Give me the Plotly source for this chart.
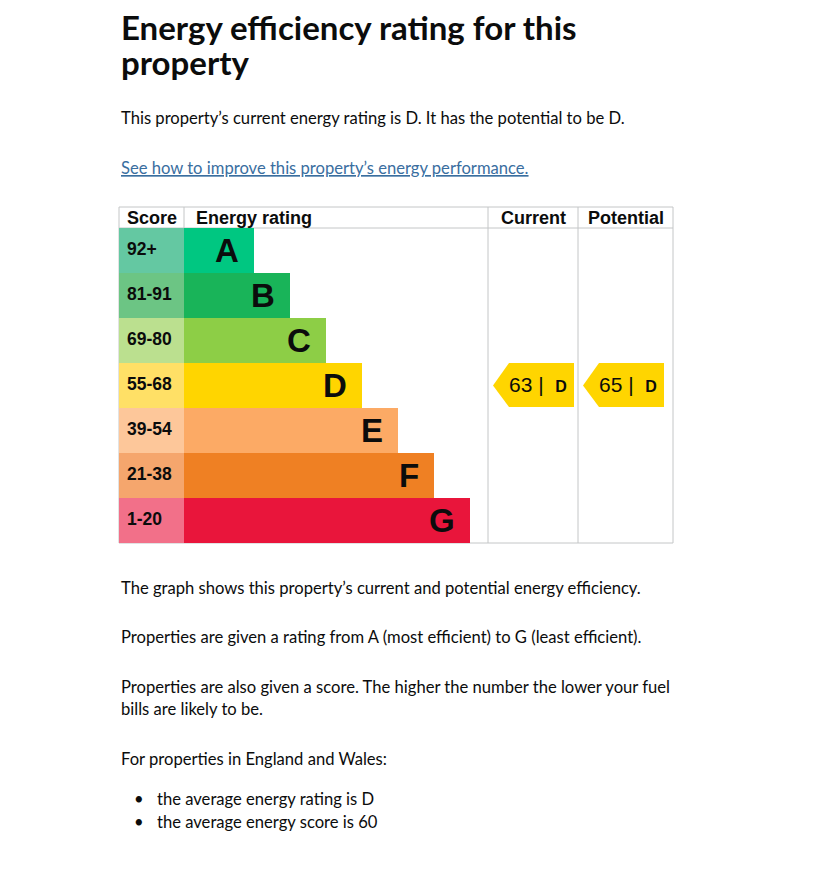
import plotly.graph_objects as go

# EPC bands, top (best) to bottom (worst)
bands = ["A", "B", "C", "D", "E", "F", "G"]
score_ranges = ["92+", "81-91", "69-80", "55-68", "39-54", "21-38", "1-20"]
band_colors = ["#00c781", "#19b459", "#8dce46", "#ffd500", "#fcaa65", "#ef8023", "#e9153b"]
score_colors = ["#64c8a2", "#6cc584", "#bbe08f", "#ffe066", "#fdc79a", "#f5a66d", "#f27089"]

current_score = 63
current_band = "D"
potential_score = 65
potential_band = "D"

intro_text = "This property\u2019s current energy rating is D. It has the potential to be D."
link_text = "See how to improve this property\u2019s energy performance."
notes = [
    "The graph shows this property\u2019s current and potential energy efficiency.",
    "Properties are given a rating from A (most efficient) to G (least efficient).",
    "Properties are also given a score. The higher the number the lower your fuel",
    "bills are likely to be.",
    "For properties in England and Wales:",
]
bullets = ["the average energy rating is D", "the average energy score is 60"]

W, H = 829, 869
TEXT = "#0b0c0c"
BODY_FONT = "Lato"
CHART_FONT = "Liberation Sans, Arial"
GRID = "#c4c6c7"

# table geometry (pixel space)
tbl_left, tbl_right = 119, 673
tbl_top, head_bot = 207, 228
score_right = 184
cur_left, pot_left = 488, 578
row_h = 45
bar_first, bar_step = 70, 36
tbl_bot = head_bot + row_h * len(bands)

row_mid = [head_bot + row_h * (i + 0.5) for i in range(len(bands))]
bar_len = [bar_first + bar_step * i for i in range(len(bands))]

fig = go.Figure()

# score cells
fig.add_trace(go.Bar(
    orientation="h", y=row_mid, x=[score_right - tbl_left] * len(bands), base=tbl_left,
    width=row_h, marker=dict(color=score_colors, line=dict(width=0)), hoverinfo="skip",
))
# rating bars
fig.add_trace(go.Bar(
    orientation="h", y=row_mid, x=bar_len, base=score_right,
    width=row_h, marker=dict(color=band_colors, line=dict(width=0)), hoverinfo="skip",
))


def arrow(col_left, band, score):
    i = bands.index(band)
    top, bot, mid = head_bot + row_h * i, head_bot + row_h * (i + 1) - 1, row_mid[i]
    tip = col_left + 5
    fig.add_trace(go.Scatter(
        x=[tip, tip + 16, tip + 81, tip + 81, tip + 16, tip],
        y=[mid, top, top, bot, bot, mid],
        fill="toself", fillcolor=band_colors[i], mode="lines", line=dict(width=0),
        hoverinfo="skip",
    ))
    fig.add_annotation(
        x=tip + 14, y=mid - 1, xanchor="left", yanchor="middle", showarrow=False,
        text=f"{score} |  <b><span style='font-size:16px'>{band}</span></b>",
        font=dict(family=CHART_FONT, size=21, color=TEXT),
    )


arrow(cur_left, current_band, current_score)
arrow(pot_left, potential_band, potential_score)

# band letters and score labels
for i, b in enumerate(bands):
    fig.add_annotation(
        x=score_right + bar_len[i] - 13, y=row_mid[i], xanchor="right", yanchor="middle",
        text=f"<b>{b}</b>", showarrow=False, font=dict(family=CHART_FONT, size=33, color=TEXT),
    )
    fig.add_annotation(
        x=tbl_left + 6, y=row_mid[i] - 1.5, xanchor="left", yanchor="middle",
        text=f"<b>{score_ranges[i]}</b>", showarrow=False, font=dict(family=CHART_FONT, size=17.5, color=TEXT),
    )

# header
headers = [("Score", tbl_left + 6, "left"), ("Energy rating", score_right + 10, "left"),
           ("Current", (cur_left + pot_left) / 2, "center"), ("Potential", (pot_left + tbl_right) / 2, "center")]
for txt, x, anc in headers:
    fig.add_annotation(x=x, y=(tbl_top + head_bot) / 2, xanchor=anc, yanchor="middle", showarrow=False,
                       text=f"<b>{txt}</b>", font=dict(family=CHART_FONT, size=18, color=TEXT))

# table lines
line = dict(color=GRID, width=1)
shapes = [
    dict(type="line", x0=tbl_left, x1=tbl_right, y0=tbl_top, y1=tbl_top, line=line),
    dict(type="line", x0=tbl_left, x1=tbl_right, y0=head_bot, y1=head_bot, line=line),
    dict(type="line", x0=tbl_left, x1=tbl_right, y0=tbl_bot, y1=tbl_bot, line=line),
    dict(type="line", x0=tbl_left, x1=tbl_left, y0=tbl_top, y1=tbl_bot, line=line),
    dict(type="line", x0=score_right, x1=score_right, y0=tbl_top, y1=head_bot, line=line),
    dict(type="line", x0=cur_left, x1=cur_left, y0=tbl_top, y1=tbl_bot, line=line),
    dict(type="line", x0=pot_left, x1=pot_left, y0=tbl_top, y1=tbl_bot, line=line),
    dict(type="line", x0=tbl_right, x1=tbl_right, y0=tbl_top, y1=tbl_bot, line=line),
]
for s in shapes:
    s.update(xref="x", yref="y", layer="below")
fig.update_layout(shapes=shapes)


# page text
def text(y, s, size=16.6, color=TEXT, x=119, bold=False):
    fig.add_annotation(x=x, y=y, xanchor="left", yanchor="middle", showarrow=False,
                       text=f"<b>{s}</b>" if bold else s,
                       font=dict(family=BODY_FONT, size=size, color=color))


text(27, "Energy efficiency rating for this", size=33, bold=True)
text(62, "property", size=33, bold=True)
text(118, intro_text)
text(168, f"<u>{link_text}</u>", color="#3a6e9f")
for y, s in zip([588, 637, 687, 709, 759], notes):
    text(y, s)
for y, s in zip([799, 822], bullets):
    text(y, "\u2022", x=132)
    text(y, s, x=155)

fig.update_layout(
    width=W, height=H, margin=dict(l=0, r=0, t=0, b=0),
    paper_bgcolor="white", plot_bgcolor="white", showlegend=False,
    barmode="overlay", bargap=0,
    xaxis=dict(range=[0, W], visible=False, fixedrange=True),
    yaxis=dict(range=[H, 0], visible=False, fixedrange=True),
)

fig.write_html("out.html", config={"displayModeBar": False},
               post_script="document.body.style.margin = '0';")
